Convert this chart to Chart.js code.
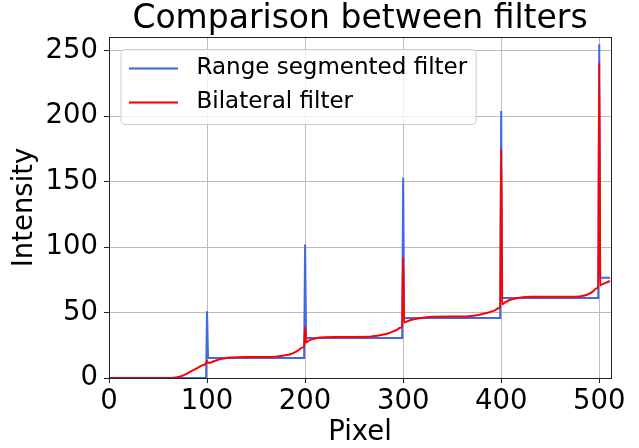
<!DOCTYPE html>
<html>
<head>
<meta charset="utf-8">
<script src="https://cdn.jsdelivr.net/npm/chart.js@4.4.0/dist/chart.umd.min.js"></script>
<style>
  html, body { margin: 0; padding: 0; background: #fff; }
</style>
</head>
<body>
<canvas id="filter-chart" width="639" height="448"></canvas>
<script>
// values (x = pixel index, y = intensity)
const blueLabel = "Range segmented filter";
const blueX = [0, 99, 100, 101, 199, 200, 201, 299, 300, 301, 399, 400, 401, 499, 500, 501, 511];
const blueY = [0, 0, 51, 15.3, 15.3, 102, 30.6, 30.6, 153, 45.9, 45.9, 204, 61.2, 61.2, 255, 76.5, 76.5];

const redLabel = "Bilateral filter";
const redX = [0, 20, 40, 60, 66, 72, 78, 84, 90, 95, 99, 100, 101, 103, 106, 110, 115, 120, 125, 130,
    140, 150, 160, 170, 175, 180, 185, 190, 194, 197, 199, 200, 201, 203, 206, 210, 215, 220, 230, 250,
    265, 270, 275, 280, 285, 290, 294, 297, 299, 300, 301, 304, 307, 311, 316, 322, 330, 350,
    365, 370, 375, 380, 385, 390, 394, 397, 399, 400, 401, 404, 407, 411, 416, 422, 430, 450,
    470, 480, 485, 490, 494, 497, 499, 500, 501, 504, 507, 511];
const redY = [0, 0, 0, 0, 0.2, 0.9, 2.7, 5.2, 7.6, 9.6, 11.2, 13, 11.6, 11.6, 12.6, 13.6, 14.6, 15.3, 15.7, 15.9,
    16, 16, 16, 16.2, 16.8, 17.4, 18.2, 19.8, 21.6, 23.2, 24.4, 39, 27.2, 28.2, 29.3, 30.2, 30.9, 31.2, 31.4, 31.4,
    31.5, 32, 32.5, 33.2, 34.2, 35.6, 37, 38.4, 39.5, 92, 42.4, 43.3, 44.1, 44.9, 45.7, 46.3, 46.8, 46.9,
    47, 47.4, 48, 48.7, 49.6, 50.8, 51.8, 53.2, 54.2, 175, 56.3, 57.8, 59, 60.1, 61, 61.6, 62, 62.1,
    62.1, 62.3, 63, 64.5, 66.4, 68.4, 70.2, 241, 70.9, 71.9, 72.8, 74.2];

const xTickValues = [0, 100, 200, 300, 400, 500];
const yTickValues = [0, 50, 100, 150, 200, 250];

const blueColor = "#4169e1";
const redColor = "#ff0000";
const tickFont = 27.5;
const legendFont = 23;
const legendPad = 11;
const legendInset = 9;

function toPoints(xs, ys) {
    return xs.map((x, i) => ({ x: x, y: ys[i] }));
}

// little line sample for the legend, a bit of blank space after it
function legendSwatch(color) {
    const c = document.createElement("canvas");
    c.width = 56;
    c.height = 3;
    const g = c.getContext("2d");
    g.strokeStyle = color;
    g.lineWidth = 2;
    g.beginPath();
    g.moveTo(0, 1.5);
    g.lineTo(49, 1.5);
    g.stroke();
    return c;
}
const swatches = [legendSwatch(blueColor), legendSwatch(redColor)];

function crisp(v) {
    return Math.round(v - 0.5) + 0.5;
}

// box round the plot and the matplotlib style legend frame
const axesFrame = {
    id: "axesFrame",
    afterLayout(chart) {
        // legend.update() resets top to 0, so place it from the chart area
        chart.legend.left = chart.chartArea.left + legendInset;
        chart.legend.top = chart.chartArea.top + legendInset;
        chart.legend.bottom = chart.chartArea.bottom;
    },
    afterDraw(chart) {
        const ctx = chart.ctx;
        const a = chart.chartArea;
        const lg = chart.legend;
        ctx.save();
        ctx.strokeStyle = "#222";
        ctx.lineWidth = 1;
        ctx.strokeRect(crisp(a.left), crisp(a.top), crisp(a.right) - crisp(a.left), crisp(a.bottom) - crisp(a.top));

        ctx.font = legendFont + 'px "DejaVu Sans"';
        const textW = Math.max.apply(null, chart.data.datasets.map(d => ctx.measureText(d.label).width));
        const lineX = lg.left + legendPad;
        const row0 = lg.top + legendPad + legendFont / 2;
        const n = chart.data.datasets.length;
        const x0 = lineX - 8;
        const y0 = row0 - 19;
        const x1 = lineX + 56 + legendFont / 2 + textW + 9;
        const y1 = row0 + (legendFont + legendPad) * (n - 1) + 22;
        const r = 4;
        ctx.beginPath();
        ctx.moveTo(x0 + r, y0);
        ctx.lineTo(x1 - r, y0);
        ctx.arcTo(x1, y0, x1, y0 + r, r);
        ctx.lineTo(x1, y1 - r);
        ctx.arcTo(x1, y1, x1 - r, y1, r);
        ctx.lineTo(x0 + r, y1);
        ctx.arcTo(x0, y1, x0, y1 - r, r);
        ctx.lineTo(x0, y0 + r);
        ctx.arcTo(x0, y0, x0 + r, y0, r);
        ctx.closePath();
        ctx.fillStyle = "rgba(255,255,255,0.8)";
        ctx.fill();
        ctx.strokeStyle = "#cccccc";
        ctx.stroke();
        ctx.restore();
        // legend again on top of its frame
        lg.draw();
    }
};

Chart.defaults.font.family = '"DejaVu Sans"';
Chart.defaults.color = "#000";

const config = {
    type: "line",
    data: {
        datasets: [{
            label: blueLabel,
            data: toPoints(blueX, blueY),
            borderColor: blueColor,
            backgroundColor: blueColor,
            borderWidth: 2,
            pointRadius: 0,
            tension: 0,
            order: 1
        }, {
            label: redLabel,
            data: toPoints(redX, redY),
            borderColor: redColor,
            backgroundColor: redColor,
            borderWidth: 2,
            pointRadius: 0,
            cubicInterpolationMode: "monotone",
            order: 0
        }]
    },
    options: {
        responsive: false,
        animation: false,
        devicePixelRatio: 1,
        layout: { padding: { left: 0, right: 28, top: 0, bottom: 0 } },
        plugins: {
            title: {
                display: true,
                text: "Comparison between filters",
                fullSize: false,
                color: "#000",
                font: { size: 33, weight: "normal", lineHeight: 35 / 33 },
                padding: { top: 2, bottom: 0 }
            },
            legend: {
                position: "chartArea",
                align: "start",
                labels: {
                    usePointStyle: true,
                    pointStyleWidth: 56,
                    padding: legendPad,
                    color: "#000",
                    font: { size: legendFont },
                    sort: (a, b) => a.datasetIndex - b.datasetIndex,
                    generateLabels(chart) {
                        const items = Chart.defaults.plugins.legend.labels.generateLabels(chart);
                        items.forEach(it => { it.pointStyle = swatches[it.datasetIndex]; });
                        return items;
                    }
                }
            },
            tooltip: { enabled: false }
        },
        scales: {
            x: {
                type: "linear",
                min: 0,
                max: 512,
                afterBuildTicks: s => { s.ticks = xTickValues.map(v => ({ value: v })); },
                afterFit: s => { s.height = 70; },
                ticks: { font: { size: tickFont }, padding: 2, color: "#000", maxRotation: 0 },
                grid: { color: "#bbbbbb", lineWidth: 1, tickLength: 5, tickColor: "#222" },
                border: { display: false },
                title: {
                    display: true,
                    text: "Pixel",
                    color: "#000",
                    font: { size: tickFont, lineHeight: 1 },
                    padding: { top: 0, bottom: 1 }
                }
            },
            y: {
                min: 0,
                max: 260.5,
                afterBuildTicks: s => { s.ticks = yTickValues.map(v => ({ value: v })); },
                afterFit: s => { s.width = 109; },
                ticks: { font: { size: tickFont }, padding: 6, color: "#000" },
                grid: { color: "#bbbbbb", lineWidth: 1, tickLength: 5, tickColor: "#222" },
                border: { display: false },
                title: {
                    display: true,
                    text: "Intensity",
                    color: "#000",
                    font: { size: tickFont, lineHeight: 1 },
                    padding: { top: 11, bottom: 0 }
                }
            }
        }
    },
    plugins: [axesFrame]
};

const filterChart = new Chart(document.getElementById("filter-chart"), config);
</script>
</body>
</html>
